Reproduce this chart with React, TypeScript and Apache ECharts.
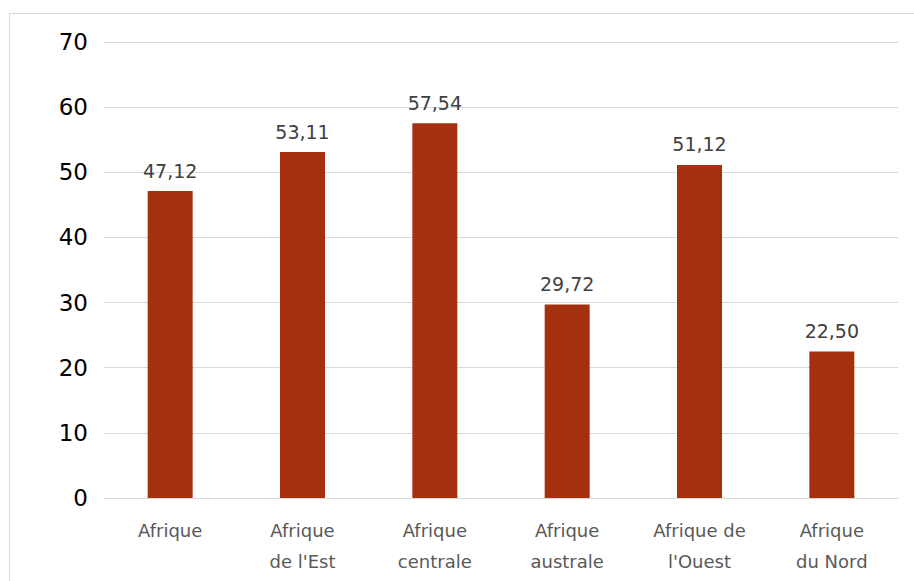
import React, { useEffect, useRef } from "react";
import * as echarts from "echarts";

const categories = ["Afrique", "Afrique\nde l'Est", "Afrique\ncentrale", "Afrique\naustrale", "Afrique de\nl'Ouest", "Afrique\ndu Nord"];
const values = [47.12, 53.11, 57.54, 29.72, 51.12, 22.5];

export default function App() {
  const ref = useRef<HTMLDivElement>(null);
  useEffect(() => {
    const chart = echarts.init(ref.current!, null, { renderer: "svg" });
    chart.setOption({
      animation: false,
      backgroundColor: "#ffffff",
      graphic: [
        {
          type: "rect",
          shape: { x: 9.5, y: 13.5, width: 920, height: 600 },
          style: { fill: "none", stroke: "#d9d9d9", lineWidth: 1 },
          silent: true,
        },
      ],
      grid: { left: 104, right: 16, top: 42, bottom: 83 },
      xAxis: {
        type: "category",
        data: categories,
        axisLine: { show: true, lineStyle: { color: "#d9d9d9", width: 1 } },
        axisTick: { show: false },
        axisLabel: {
          color: "#595959",
          fontFamily: "DejaVu Sans",
          fontSize: 18,
          lineHeight: 31,
          margin: 17,
          interval: 0,
        },
      },
      yAxis: {
        type: "value",
        min: 0,
        max: 70,
        interval: 10,
        axisLine: { show: false },
        axisTick: { show: false },
        splitLine: { lineStyle: { color: "#d9d9d9", width: 1 } },
        axisLabel: {
          color: "#000000",
          fontFamily: "DejaVu Sans",
          fontSize: 23,
          margin: 16,
        },
      },
      series: [
        {
          type: "bar",
          data: values,
          barWidth: 45,
          itemStyle: { color: "#A5300F" },
          label: {
            show: true,
            position: "top",
            distance: 11,
            color: "#404040",
            fontFamily: "DejaVu Sans",
            fontSize: 19,
            formatter: (p: any) => p.value.toFixed(2).replace(".", ","),
          },
        },
      ],
    });
    return () => chart.dispose();
  }, []);
  return <div ref={ref} style={{ position: "absolute", left: 0, top: 0, width: 914, height: 581 }} />;
}
